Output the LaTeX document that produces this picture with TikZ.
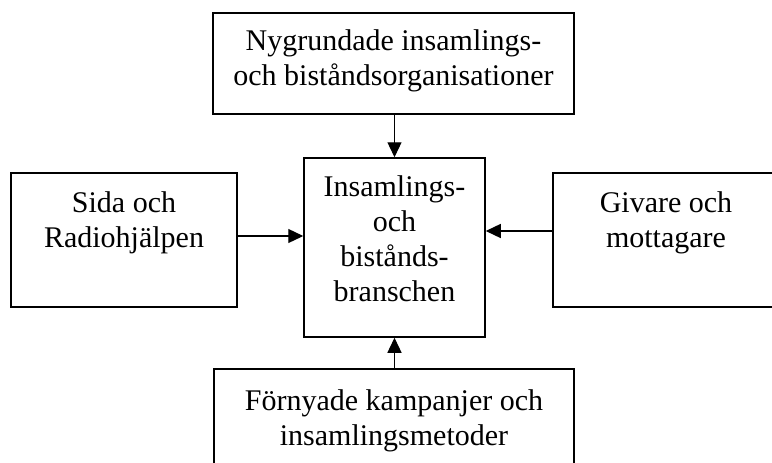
\documentclass[tikz,border=0pt]{standalone}
\usepackage{fontspec}
\setmainfont{Liberation Serif}
\usetikzlibrary{arrows.meta}
\tikzset{
  box/.style={draw=black, line width=1.5pt, rectangle, inner sep=0pt, fill=white},
  lbl/.style={anchor=north, inner sep=0pt, align=center, font=\fontsize{30}{35}\selectfont},
  conn/.style={line width=1.3pt, -{Triangle[length=15pt,width=14pt]}}
}
\begin{document}
\begin{tikzpicture}[x=1pt,y=-1pt]
\clip (0,0) rectangle (772,463);
\fill[white] (0,0) rectangle (772,463);
% boxes
\node[box, minimum width=361pt, minimum height=101pt] (top) at (393.5,63.5) {};
\node[box, minimum width=181pt, minimum height=179pt] (mid) at (394.5,247.5) {};
\node[box, minimum width=226pt, minimum height=134pt] (left) at (124,240) {};
\node[box, minimum width=226pt, minimum height=134pt] (right) at (666,240) {};
\node[box, minimum width=360pt, minimum height=101pt] (bot) at (394,419.5) {};
% texts
\node[lbl] (ttop) at (393.5,29.5) {Nygrundade insamlings-\\och biståndsorganisationer};
\node[lbl] (tmid) at (394.5,175.5) {Insamlings-\\och\\bistånds-\\branschen};
\node[lbl] (tleft) at (124,191.5) {Sida och\\Radiohjälpen};
\node[lbl] (tright) at (666,191.5) {Givare och\\mottagare};
\node[lbl] (tbot) at (394,389.5) {Förnyade kampanjer och\\insamlingsmetoder};
% connectors
\draw[conn] (mid.north |- top.south) -- (mid.north);
\draw[conn] ([yshift=4pt]left.east) -- ([yshift=4pt]left.east -| mid.west);
\draw[conn] ([yshift=9pt]right.west) -- ([yshift=9pt]right.west -| mid.east);
\draw[conn] (mid.south |- bot.north) -- (mid.south);
\end{tikzpicture}
\end{document}
